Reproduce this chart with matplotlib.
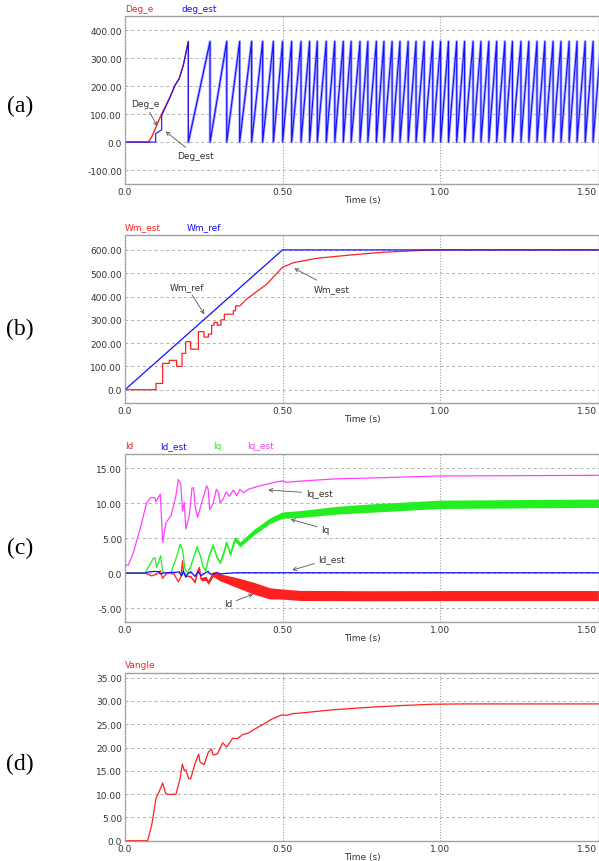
import numpy as np
import matplotlib
matplotlib.use("Agg")
import matplotlib.pyplot as plt

# ---- (a) rotor angle: times where the estimated angle wraps 360 -> 0
deg_start_t = [0.0, 0.0974, 0.0974, 0.1164, 0.1164, 0.143, 0.1587, 0.172, 0.1852, 0.2011]
deg_start_v = [0.0, 0.0, 30.0, 44.0, 95.0, 161.0, 203.0, 227.0, 275.0, 360.0]
deg_e_start_t = [0.0, 0.074, 0.0847, 0.1005, 0.1143, 0.143, 0.1587, 0.172, 0.1852, 0.2011]
deg_e_start_v = [0.0, 0.0, 18.0, 60.0, 95.0, 161.0, 203.0, 227.0, 275.0, 360.0]
wrap_times = [0.2011, 0.270, 0.323, 0.364, 0.402, 0.437, 0.471, 0.5005, 0.529, 0.5587,
              0.586, 0.6105, 0.639, 0.666, 0.693, 0.718, 0.746, 0.771, 0.798, 0.822,
              0.848, 0.873, 0.899, 0.924, 0.950, 0.977, 1.002, 1.027, 1.053, 1.078,
              1.105, 1.130, 1.155, 1.180, 1.206, 1.230, 1.257, 1.282, 1.308, 1.333,
              1.359, 1.384, 1.410, 1.435, 1.461, 1.486, 1.511]

# ---- (b) speed
wm_ref_t = [0.0, 0.5, 1.51]
wm_ref_v = [0.0, 600.0, 600.0]
wm_est_t = [0.0, 0.0984, 0.0984, 0.1196, 0.1196, 0.1407, 0.1407, 0.164, 0.164, 0.181,
            0.181, 0.1926, 0.1926, 0.2085, 0.2085, 0.233, 0.233, 0.251, 0.251, 0.2646,
            0.2646, 0.2751, 0.2751, 0.2825, 0.2825, 0.293, 0.293, 0.3048, 0.3048, 0.3153,
            0.3153, 0.344, 0.344, 0.351, 0.351, 0.365, 0.386, 0.407, 0.450, 0.4995,
            0.534, 0.608, 0.714, 0.82, 0.926, 0.99, 1.51]
wm_est_v = [0.0, 0.0, 27.0, 27.0, 113.0, 113.0, 126.0, 126.0, 100.0, 100.0,
            156.0, 156.0, 206.0, 206.0, 174.0, 174.0, 249.0, 249.0, 226.0, 226.0,
            239.0, 239.0, 277.0, 277.0, 289.0, 289.0, 277.0, 277.0, 300.0, 300.0,
            324.0, 324.0, 339.0, 339.0, 360.0, 360.0, 389.0, 410.0, 453.0, 525.0,
            545.0, 564.0, 578.0, 590.0, 597.0, 600.0, 600.0]

# ---- (c) currents (centre line + half width of ripple band)
iq_est_t = [0.0, 0.0106, 0.0265, 0.0476, 0.069, 0.0815, 0.095, 0.098, 0.1122, 0.1196,
            0.130, 0.146, 0.1614, 0.169, 0.1772, 0.1825, 0.188, 0.193, 0.204, 0.2127,
            0.218, 0.2222, 0.2307, 0.2466, 0.2593, 0.264, 0.2688, 0.2794, 0.290, 0.297,
            0.3016, 0.312, 0.3206, 0.331, 0.3439, 0.3545, 0.365, 0.3757, 0.3915, 0.4286,
            0.471, 0.4995, 0.513, 0.566, 0.672, 0.767, 1.0, 1.51]
iq_est_v = [1.14, 1.14, 2.95, 6.3, 10.1, 10.8, 10.8, 10.2, 11.3, 4.4,
            7.2, 8.2, 11.0, 13.4, 12.7, 8.9, 10.1, 6.3, 8.2, 12.2,
            12.2, 9.6, 8.0, 10.6, 12.5, 12.0, 9.1, 9.9, 12.0, 11.5,
            10.1, 10.6, 11.6, 11.0, 11.9, 11.1, 12.0, 11.5, 12.0, 12.5,
            12.95, 13.2, 13.0, 13.2, 13.5, 13.6, 13.9, 14.0]

iq_t = [0.0, 0.0635, 0.0899, 0.095, 0.1005, 0.1132, 0.119, 0.124, 0.1455, 0.1614,
        0.175, 0.1825, 0.190, 0.1984, 0.209, 0.2286, 0.241, 0.246, 0.2556, 0.267,
        0.2794, 0.2921, 0.3026, 0.3164, 0.322, 0.3344, 0.343, 0.3492, 0.365, 0.4074,
        0.460, 0.4995, 0.556, 0.672, 0.778, 1.0, 1.51]
iq_v = [0.0, 0.0, 2.1, 2.2, 0.8, 2.5, 0.3, 0.0, 0.0, 2.0,
        4.1, 3.4, 0.6, 0.0, 1.0, 3.8, 2.2, 1.05, 0.33, 2.5,
        4.0, 2.2, 1.5, 3.4, 4.4, 2.7, 4.0, 4.9, 4.1, 5.8,
        7.5, 8.3, 8.45, 9.0, 9.3, 9.85, 10.0]
iq_band = [0.0, 0.0, 0.0, 0.0, 0.0, 0.0, 0.0, 0.0, 0.0, 0.0,
           0.05, 0.05, 0.05, 0.0, 0.05, 0.1, 0.1, 0.1, 0.1, 0.15,
           0.2, 0.2, 0.2, 0.25, 0.25, 0.3, 0.3, 0.35, 0.35, 0.4,
           0.4, 0.45, 0.5, 0.55, 0.6, 0.6, 0.6]

id_t = [0.0, 0.0635, 0.0847, 0.1005, 0.1122, 0.1196, 0.1249, 0.135, 0.156, 0.169,
        0.1772, 0.1825, 0.186, 0.193, 0.209, 0.2222, 0.2307, 0.236, 0.241, 0.257,
        0.264, 0.2794, 0.3016, 0.3545, 0.4074, 0.460, 0.4995, 0.556, 0.778, 1.0, 1.51]
id_v = [0.0, 0.0, -0.4, -0.15, 0.33, -0.76, -0.4, 0.0, -0.15, -1.24,
        -0.6, 1.76, 0.0, -0.4, -0.5, -1.33, 0.33, 0.8, -0.86, -0.76,
        -1.33, -0.15, -0.6, -1.35, -2.15, -2.9, -3.0, -3.2, -3.24, -3.22, -3.22]
id_band = [0.0, 0.0, 0.0, 0.0, 0.0, 0.0, 0.0, 0.0, 0.0, 0.0,
           0.0, 0.0, 0.0, 0.05, 0.1, 0.15, 0.2, 0.2, 0.25, 0.3,
           0.3, 0.35, 0.5, 0.7, 0.85, 0.8, 0.72, 0.72, 0.72, 0.72, 0.72]

id_est_t = [0.0, 0.0635, 0.0794, 0.095, 0.1069, 0.1122, 0.1196, 0.1455, 0.1614, 0.172,
            0.180, 0.1852, 0.193, 0.1984, 0.209, 0.2222, 0.2328, 0.241, 0.257, 0.264,
            0.2720, 0.2931, 0.3016, 0.318, 0.35, 1.51]
id_est_v = [0.0, 0.0, 0.2, 0.24, 0.2, -0.14, 0.0, 0.1, 0.1, 0.2,
            -0.4, 0.33, -0.6, -0.14, 0.2, -0.48, 0.24, -0.38, 0.1, 0.24,
            -0.19, 0.1, -0.14, -0.05, 0.05, 0.05]

# ---- (d) voltage angle
vangle_t = [0.0, 0.072, 0.0847, 0.0984, 0.109, 0.1196, 0.129, 0.1429, 0.162, 0.1746,
            0.182, 0.188, 0.1937, 0.202, 0.2085, 0.222, 0.234, 0.238, 0.251, 0.2646,
            0.274, 0.280, 0.293, 0.310, 0.323, 0.342, 0.357, 0.3735, 0.3915, 0.4127,
            0.439, 0.4656, 0.498, 0.513, 0.534, 0.556, 0.661, 0.767, 0.873, 0.979,
            1.08, 1.51]
vangle_v = [0.0, 0.0, 3.3, 9.1, 10.6, 12.4, 10.1, 9.9, 10.0, 13.3,
            16.4, 15.1, 15.2, 13.3, 13.3, 16.5, 18.6, 16.9, 16.3, 19.0,
            19.7, 18.4, 18.6, 21.0, 20.1, 22.0, 21.9, 22.8, 23.1, 24.0,
            25.0, 26.1, 27.0, 26.9, 27.3, 27.4, 28.1, 28.6, 29.0, 29.3,
            29.36, 29.36]

RED = "#ff2020"
BLUE = "#1010ff"
GREEN = "#22ee22"
MAGENTA = "#ff40ff"
TXT = 6.5

W, H = 599, 862
fig = plt.figure(figsize=(W / 100, H / 100), dpi=100)
plt.rcParams["font.family"] = ["DejaVu Sans"]

XMAX = (W - 125) / 315.0


def make_axes(top, ylim, yticks, ylabels, panel, series):
    ax = fig.add_axes([125 / W, (H - top - 168) / H, (W - 125) / W, 168 / H])
    ax.set_xlim(0, XMAX)
    ax.set_ylim(*ylim)
    ax.set_yticks(yticks)
    ax.set_yticklabels(ylabels)
    ax.set_xticks([0, 0.5, 1.0, 1.5])
    ax.set_xticklabels(["0.0", "0.50", "1.00", "1.50"])
    ax.get_xticklabels()[-1].set_horizontalalignment("right")
    ax.tick_params(length=0, labelsize=TXT, labelcolor="#333333", pad=2.2)
    for y in yticks:
        ax.axhline(y, color="#b0b0b0", lw=0.7, ls=(0, (3, 3)), zorder=0)
    for x in (0.5, 1.0):
        ax.axvline(x, color="#a0a0a0", lw=0.8, ls=(0, (1, 1.5)), zorder=0)
    for s in ax.spines.values():
        s.set_color("#a0a0a0")
        s.set_linewidth(1.0)
    ax.spines["left"].set_linestyle((0, (1, 1.2)))
    ax.text(0.5, -15.7 / 168, "Time (s)", transform=ax.transAxes, ha="center",
            va="center", fontsize=TXT, color="#333333")
    for xpix, name, col in series:
        ax.text((xpix - 125) / 474, 1 + 8 / 168, name, transform=ax.transAxes,
                ha="left", va="center", fontsize=TXT, color=col)
    fig.text(20 / W, 1 - panel[1] / H, panel[0], ha="center", va="center",
             fontsize=17, family="Liberation Serif")
    return ax


arrow = dict(arrowstyle="->", color="#555555", lw=0.6, shrinkA=1, shrinkB=0)
note_kw = dict(fontsize=TXT, color="#333333", ha="center", va="center", arrowprops=arrow)

# (a)
ax = make_axes(17, (-150, 451), [-100, 0, 100, 200, 300, 400],
               ["-100.00", "0.0", "100.00", "200.00", "300.00", "400.00"],
               ("(a)", 106), [(125, "Deg_e", RED), (181, "deg_est", BLUE)])
w = np.array(wrap_times)
saw_t = np.column_stack([w[:-1], w[1:], w[1:]]).ravel()
saw_v = np.tile([0.0, 360.0, 0.0], len(w) - 1)
ax.plot(deg_e_start_t + list(saw_t), deg_e_start_v + list(saw_v), color=RED, lw=1.0)
ax.plot(list(saw_t), list(saw_v), color="#a8a8ff", lw=2.0)
ax.plot(deg_start_t + list(saw_t), deg_start_v + list(saw_v), color=BLUE, lw=0.8)
ax.annotate("Deg_e", xy=(0.1025, 57), xytext=(0.0635, 137), **note_kw)
ax.annotate("Deg_est", xy=(0.129, 38), xytext=(0.225, -48), **note_kw)

# (b)
ax = make_axes(236, (-57, 664), [0, 100, 200, 300, 400, 500, 600],
               ["0.0", "100.00", "200.00", "300.00", "400.00", "500.00", "600.00"],
               ("(b)", 329), [(125, "Wm_est", RED), (187, "Wm_ref", BLUE)])
ax.plot(wm_est_t, wm_est_v, color=RED, lw=0.9)
ax.plot(wm_ref_t, wm_ref_v, color=BLUE, lw=0.9)
ax.annotate("Wm_ref", xy=(0.252, 324), xytext=(0.196, 443), **note_kw)
ax.annotate("Wm_est", xy=(0.5375, 521), xytext=(0.656, 436), **note_kw)

# (c)
ax = make_axes(455, (-7.0, 17.05), [-5, 0, 5, 10, 15],
               ["-5.00", "0.0", "5.00", "10.00", "15.00"],
               ("(c)", 548), [(125, "Id", RED), (160, "Id_est", BLUE),
                              (213, "Iq", GREEN), (247, "Iq_est", MAGENTA)])
iq_c = np.array(iq_v)
iq_h = np.array(iq_band)
id_c = np.array(id_v)
id_h = np.array(id_band)
ax.fill_between(id_t, id_c - id_h, id_c + id_h, color=RED, lw=0)
ax.plot(id_t, id_v, color=RED, lw=0.9)
ax.fill_between(iq_t, iq_c - iq_h, iq_c + iq_h, color=GREEN, lw=0)
ax.plot(iq_t, iq_v, color=GREEN, lw=0.9)
ax.plot(id_est_t, id_est_v, color=BLUE, lw=0.9)
ax.plot(iq_est_t, iq_est_v, color=MAGENTA, lw=0.9)
ax.annotate("Iq_est", xy=(0.455, 11.9), xytext=(0.616, 11.4), **note_kw)
ax.annotate("Iq", xy=(0.526, 7.7), xytext=(0.636, 6.3), **note_kw)
ax.annotate("Id_est", xy=(0.531, 0.43), xytext=(0.657, 2.1), **note_kw)
ax.annotate("Id", xy=(0.407, -3.0), xytext=(0.327, -4.4), **note_kw)

# (d)
ax = make_axes(674, (-0.07, 36.0), [0, 5, 10, 15, 20, 25, 30, 35],
               ["0.0", "5.00", "10.00", "15.00", "20.00", "25.00", "30.00", "35.00"],
               ("(d)", 764), [(125, "Vangle", RED)])
ax.plot(vangle_t, vangle_v, color=RED, lw=0.9)

fig.savefig("out.png", dpi=100)
